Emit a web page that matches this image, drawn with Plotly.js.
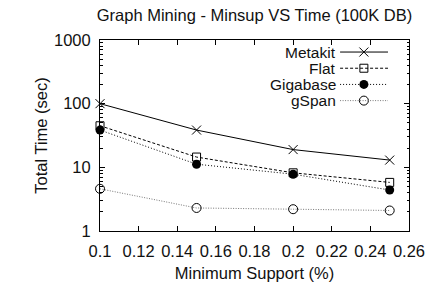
<!DOCTYPE html>
<html>
<head>
<meta charset="utf-8">
<script src="https://cdn.plot.ly/plotly-3.0.1.min.js"></script>
<style>html,body{margin:0;padding:0;background:#fff;}#chart{width:430px;height:284px;}</style>
</head>
<body>
<div id="chart"></div>
<script>
// Data
const minSupport = [0.1, 0.15, 0.2, 0.25];
const metakit  = [100, 38.5, 19, 13];
const flat     = [45, 14.5, 8.2, 5.8];
const gigabase = [38.5, 11.2, 7.8, 4.4];
const gspan    = [4.6, 2.3, 2.2, 2.1];
const seriesNames = ['Metakit', 'Flat', 'Gigabase', 'gSpan'];

const styles = [
  {line: {color: '#000', width: 1, dash: 'solid'}, marker: {symbol: 'x-thin-open', size: 9, color: '#000', line: {width: 1, color: '#000'}}},
  {line: {color: '#000', width: 1, dash: '3px,2px'}, marker: {symbol: 'square-open', size: 8, color: '#000', line: {width: 1, color: '#000'}}},
  {line: {color: '#000', width: 1, dash: '1px,2px'}, marker: {symbol: 'circle', size: 9, color: '#000', line: {width: 0}}},
  {line: {color: '#777', width: 1, dash: '1px,1.5px'}, marker: {symbol: 'circle-open', size: 9, color: '#000', line: {width: 1, color: '#000'}}}
];
const values = [metakit, flat, gigabase, gspan];

const traces = values.map((v, i) => ({
  x: minSupport, y: v, type: 'scatter', mode: 'lines+markers',
  name: seriesNames[i], line: styles[i].line, marker: styles[i].marker,
  showlegend: false, cliponaxis: false
}));

// Custom legend (text right-aligned, sample on the right, as gnuplot draws it)
const legTop = 0.937, legStep = 0.0848;
const legTextX = 0.767, legX0 = 0.777, legX1 = 0.932, legMX = 0.854;
const shapes = [];
const annotations = [];
const legFont = {family: 'Liberation Sans, Arial, sans-serif', size: 15.5, color: '#111'};
seriesNames.forEach((n, i) => {
  const ly = legTop - i * legStep;
  shapes.push({type: 'line', xref: 'paper', yref: 'paper', x0: legX0, x1: legX1, y0: ly, y1: ly,
    line: {color: styles[i].line.color, width: 1, dash: styles[i].line.dash}});
  annotations.push({xref: 'paper', yref: 'paper', x: legTextX, y: ly, xanchor: 'right', yanchor: 'middle',
    text: n, showarrow: false, font: legFont, borderpad: 0});
  traces.push({x: [legMX], y: [ly], xaxis: 'x2', yaxis: 'y2', type: 'scatter', mode: 'markers',
    marker: styles[i].marker, showlegend: false, hoverinfo: 'skip', cliponaxis: false});
});

const minorVals = [];
[1, 10, 100].forEach(d => { for (let k = 2; k <= 9; k++) minorVals.push(k * d); });

const font = {family: 'Liberation Sans, Arial, sans-serif', size: 16.5, color: '#111'};
const layout = {
  width: 430, height: 284,
  margin: {l: 100, r: 21, t: 40, b: 53},
  paper_bgcolor: '#fff', plot_bgcolor: '#fff',
  font: font,
  showlegend: false,
  title: {text: 'Graph Mining - Minsup VS Time (100K DB)', font: font, x: 0.5, xref: 'paper', y: 0.945, yref: 'container', yanchor: 'middle'},
  xaxis: {
    range: [0.1, 0.26], dtick: 0.02, tick0: 0.1, ticks: 'inside', ticklen: 5, tickcolor: '#000',
    showline: true, linecolor: '#000', linewidth: 1, mirror: 'allticks', showgrid: false, zeroline: false,
    tickfont: font, ticklabelstandoff: 5,
    title: {text: 'Minimum Support (%)', font: font, standoff: 8}
  },
  yaxis: {
    type: 'log', range: [0, 3], tickvals: [1, 10, 100, 1000], ticktext: ['1', '10', '100', '1000'],
    ticks: 'inside', ticklen: 5, tickcolor: '#000',
    minor: {tickvals: minorVals, ticks: 'inside', ticklen: 2.5, tickcolor: '#000', showgrid: false},
    showline: true, linecolor: '#000', linewidth: 1, mirror: 'allticks', showgrid: false, zeroline: false,
    tickfont: font, ticklabelstandoff: 5,
    title: {text: 'Total Time (sec)', font: font, standoff: 2}
  },
  xaxis2: {domain: [0, 1], range: [0, 1], visible: false, overlaying: 'x', anchor: 'y2', fixedrange: true},
  yaxis2: {domain: [0, 1], range: [0, 1], visible: false, overlaying: 'y', anchor: 'x2', fixedrange: true},
  shapes: shapes,
  annotations: annotations
};

Plotly.newPlot('chart', traces, layout, {displayModeBar: false, staticPlot: true});
</script>
</body>
</html>
